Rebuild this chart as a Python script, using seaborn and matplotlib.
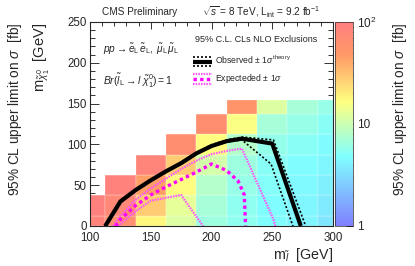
import matplotlib
matplotlib.use("Agg")
import matplotlib.pyplot as plt
import numpy as np
import pandas as pd
import seaborn as sns
from matplotlib.colors import LinearSegmentedColormap, LogNorm
from matplotlib.cm import ScalarMappable
from matplotlib.legend_handler import HandlerBase
from matplotlib.lines import Line2D
from matplotlib.ticker import MultipleLocator, FixedLocator, LogLocator, NullFormatter

# ----------------------------------------------------------------------------
# Data
# ----------------------------------------------------------------------------
# grid of slepton mass (x) and LSP mass (y) points, 25 GeV steps
m_slep = [100, 125, 150, 175, 200, 225, 250, 275, 300]
m_lsp = [0, 25, 50, 75, 100, 125, 150]

# 95% CL upper limit on sigma [fb], one list per slepton mass column (bottom -> top)
limit_100 = [85, 95]
limit_125 = [60, 75, 90]
limit_150 = [18, 28, 45, 85]
limit_175 = [12, 13, 17, 28, 65]
limit_200 = [6.5, 7, 8, 11, 17, 65]
limit_225 = [5.5, 5.5, 6, 6.5, 8, 16, 55]
limit_250 = [4.8, 4.8, 5, 5.2, 5.8, 7, 12]
limit_275 = [4.2, 4.3, 4.5, 4.8, 5.2, 6, 7]
limit_300 = [3.5, 3.8, 4.0, 4.3, 4.6, 5.2, 6]
limits = [limit_100, limit_125, limit_150, limit_175, limit_200,
          limit_225, limit_250, limit_275, limit_300]

# bin edges (cells centred on the grid points, clipped to the drawn range)
x_edges = [100, 112.5, 137.5, 162.5, 187.5, 212.5, 237.5, 262.5, 287.5, 300]
y_edges = [0, 12.5, 37.5, 62.5, 87.5, 112.5, 137.5, 155]

# exclusion contours
obs_x = [112.5, 125, 137.5, 150, 162.5, 175, 187.5, 200, 212.5, 225, 250, 273.5]
obs_y = [0, 30, 44, 56, 67, 77, 89, 98, 104, 107, 101, 0]
obs_up_x = [112, 124.5, 137.5, 150, 162.5, 175, 187.5, 200, 212.5, 225, 251, 277.5]
obs_up_y = [0, 31, 45, 57, 68, 78, 90, 99.5, 105.5, 109, 105.5, 0]
obs_dn_x = [113.5, 125.5, 137.5, 150, 162.5, 175, 187.5, 200, 212.5, 225, 249, 267]
obs_dn_y = [0, 29, 43, 55, 66, 76, 88, 97, 103, 105.5, 76, 0]

exp_x = [121, 125, 137.5, 150, 162.5, 175, 187.5, 200, 212.5, 222, 227, 228]
exp_y = [0, 8, 25, 38, 48, 57, 66, 76, 68, 55, 38, 0]
exp_up_x = [119, 125, 137.5, 150, 162.5, 175, 187.5, 200, 212.5, 225, 251, 252.5]
exp_up_y = [0, 12, 32, 46, 58, 70, 80, 88, 92, 95, 8, 0]
exp_dn_x = [123, 137.5, 150, 175, 193]
exp_dn_y = [0, 18, 31, 38, 0]

# ----------------------------------------------------------------------------
# Style
# ----------------------------------------------------------------------------
sns.set_style("ticks")
plt.rcParams["font.family"] = ["Liberation Sans", "DejaVu Sans"]
plt.rcParams["mathtext.fontset"] = "custom"
plt.rcParams["mathtext.rm"] = "Liberation Sans"
plt.rcParams["mathtext.it"] = "Liberation Sans:italic"
plt.rcParams["mathtext.sf"] = "Liberation Sans"
plt.rcParams["axes.linewidth"] = 0.8

# pastel palette used by the SUSY limit plots
cmap = LinearSegmentedColormap("susy", {
    "red":   [(0.00, 0.50, 0.50), (0.34, 0.50, 0.50), (0.61, 1.00, 1.00), (0.84, 1.00, 1.00), (1.00, 1.00, 1.00)],
    "green": [(0.00, 0.50, 0.50), (0.34, 1.00, 1.00), (0.61, 1.00, 1.00), (0.84, 0.60, 0.60), (1.00, 0.50, 0.50)],
    "blue":  [(0.00, 1.00, 1.00), (0.34, 1.00, 1.00), (0.61, 0.50, 0.50), (0.84, 0.40, 0.40), (1.00, 0.50, 0.50)],
}, N=255)

MAGENTA = "#ff00ff"
PINK = "#ff55ff"


class BandHandler(HandlerBase):
    """Legend entry: central line with a thinner line above and below."""

    def __init__(self, main_kw, side_kw):
        super().__init__()
        self.main_kw = main_kw
        self.side_kw = side_kw

    def create_artists(self, legend, orig_handle, xdescent, ydescent,
                       width, height, fontsize, trans):
        x0, x1 = -xdescent, -xdescent + width
        arts = []
        for frac, kw in ((0.95, self.side_kw), (0.45, self.main_kw), (-0.05, self.side_kw)):
            y = -ydescent + frac * height
            ln = Line2D([x0, x1], [y, y], transform=trans, **kw)
            arts.append(ln)
        return arts


def build_frame():
    rows = []
    for mx, col in zip(m_slep, limits):
        for my, val in zip(m_lsp, col):
            rows.append((mx, my, val))
    df = pd.DataFrame(rows, columns=["m_slep", "m_lsp", "limit"])
    df["log_limit"] = np.log10(df["limit"])
    return df


def main():
    df = build_frame()

    fig = plt.figure(figsize=(4.15, 2.66), dpi=100)
    ax = fig.add_axes([90 / 415, 40 / 266, 243 / 415, 204 / 266])
    cax = fig.add_axes([335 / 415, 40 / 266, 18 / 415, 204 / 266])

    # colour cells: log10 of the limit on a linear 0..2 scale == log colour axis 1..100
    sns.histplot(
        data=df, x="m_slep", y="m_lsp", weights="log_limit",
        bins=(np.array(x_edges), np.array(y_edges)),
        cmap=cmap, vmin=0, vmax=2, ax=ax,
        edgecolor=(1, 1, 1, 0.12), linewidth=0.3,
    )

    obs_main = dict(color="black", lw=3.0, solid_capstyle="butt")
    obs_side = dict(color="black", lw=1.2, linestyle=(0, (1.2, 1.2)))
    exp_main = dict(color=MAGENTA, lw=2.4, linestyle=(0, (1, 1)))
    exp_side = dict(color=PINK, lw=1.6, linestyle=(0, (0.7, 0.5)))

    sns.lineplot(x=exp_dn_x, y=exp_dn_y, sort=False, ax=ax, **exp_side)
    sns.lineplot(x=exp_up_x, y=exp_up_y, sort=False, ax=ax, **exp_side)
    sns.lineplot(x=exp_x, y=exp_y, sort=False, ax=ax, **exp_main)
    sns.lineplot(x=obs_up_x, y=obs_up_y, sort=False, ax=ax, **obs_side)
    sns.lineplot(x=obs_dn_x, y=obs_dn_y, sort=False, ax=ax, **obs_side)
    sns.lineplot(x=obs_x, y=obs_y, sort=False, ax=ax, **obs_main)

    ax.set_xlim(100, 300)
    ax.set_ylim(0, 250)
    ax.set_xlabel("")
    ax.set_ylabel("")
    ax.xaxis.set_major_locator(MultipleLocator(50))
    ax.xaxis.set_minor_locator(MultipleLocator(10))
    ax.yaxis.set_major_locator(MultipleLocator(50))
    ax.yaxis.set_minor_locator(MultipleLocator(10))
    ax.tick_params(which="both", direction="in", top=True, right=True,
                   labelsize=8.3, width=0.7, color="#333333")
    ax.tick_params(axis="x", which="major", length=5, pad=4.6)
    ax.tick_params(axis="x", which="minor", length=2.8)
    ax.tick_params(axis="y", which="major", length=6.5, pad=2.5)
    ax.tick_params(axis="y", which="minor", length=3.5)

    # legend
    h_obs = Line2D([], [], color="black")
    h_exp = Line2D([], [], color=MAGENTA)
    ax.legend(
        [h_obs, h_exp],
        [r"Observed $\pm$ 1$\sigma^{\rm theory}$", r"Expecteded $\pm$ 1$\sigma$"],
        handler_map={h_obs: BandHandler(obs_main, obs_side),
                     h_exp: BandHandler(exp_main, exp_side)},
        loc="upper left", bbox_to_anchor=(0.424, 0.845), frameon=False,
        fontsize=6.2, handlelength=2.2, handleheight=1.35, handletextpad=0.4,
        labelspacing=0.75, borderpad=0, borderaxespad=0,
    )
    ax.text(0.432, 0.912, "95% C.L. CLs NLO Exclusions", transform=ax.transAxes,
            fontsize=6.5, va="center", ha="left")
    ax.text(0.053, 0.863,
            r"$pp \rightarrow \tilde{e}_{\rm L}\,\tilde{e}_{\rm L},\ \tilde{\mu}_{\rm L}\,\tilde{\mu}_{\rm L}$",
            transform=ax.transAxes, fontsize=7.3, va="center", ha="left")
    ax.text(0.053, 0.711,
            r"$Br(\tilde{l}_{\rm L} \rightarrow l\ \tilde{\chi}^{0}_{1}) = 1$",
            transform=ax.transAxes, fontsize=7.5, va="center", ha="left")

    # colour bar
    cb = fig.colorbar(ScalarMappable(norm=LogNorm(1, 100), cmap=cmap), cax=cax)
    cb.outline.set_linewidth(0.5)
    cax.yaxis.set_major_locator(FixedLocator([1, 10, 100]))
    cax.yaxis.set_minor_locator(LogLocator(base=10, subs=np.arange(2, 10)))
    cax.yaxis.set_minor_formatter(NullFormatter())
    cax.set_yticklabels(["1", "10", r"10$^{2}$"])
    cax.tick_params(which="both", direction="in", labelsize=8.5, width=0.7, pad=3)
    cax.tick_params(which="major", length=5)
    cax.tick_params(which="minor", length=2.8)

    # titles and axis titles
    fig.text(102 / 415, 0.955, "CMS Preliminary", fontsize=7.2, ha="left", va="center")
    fig.text(202 / 415, 0.955,
             r"$\sqrt{s}$ = 8 TeV, L$_{\rm int}$ = 9.2 fb$^{-1}$",
             fontsize=7.2, ha="left", va="center")
    fig.text(333 / 415, 1 - 246.5 / 266, r"m$_{\tilde{l}}$  [GeV]", fontsize=10.3,
             ha="right", va="top")
    fig.text(0.10, 0.914, r"m$_{\tilde{\chi}^{0}_{1}}$  [GeV]", fontsize=10.5,
             rotation=90, ha="center", va="top")
    fig.text(0.036, 0.914, r"95% CL upper limit on $\sigma$  [fb]", fontsize=9.8,
             rotation=90, ha="center", va="top")
    fig.text(0.964, 0.914, r"95% CL upper limit on $\sigma$  [fb]", fontsize=9.8,
             rotation=90, ha="center", va="top")

    fig.savefig("out.png", dpi=100)


if __name__ == "__main__":
    main()
